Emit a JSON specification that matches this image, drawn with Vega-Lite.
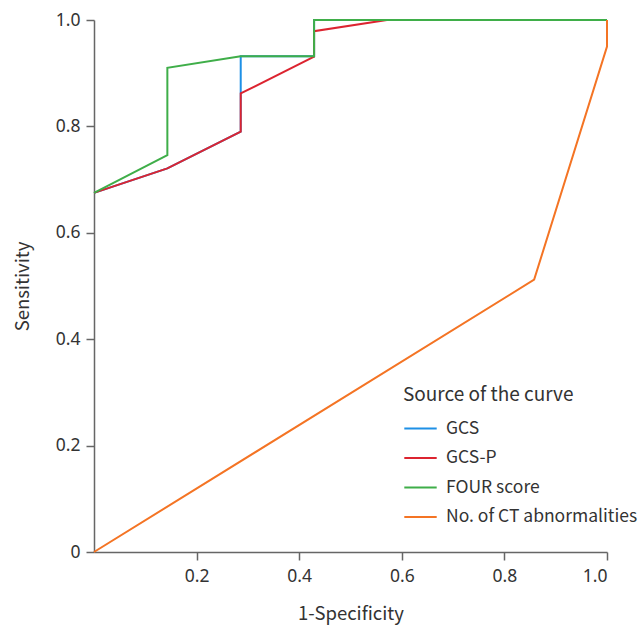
{
  "$schema": "https://vega.github.io/schema/vega-lite/v6.json",
  "width": 513,
  "height": 532,
  "autosize": "none",
  "padding": {"left": 94, "top": 20, "right": 36, "bottom": 74},
  "background": "white",
  "config": {
    "view": {"stroke": null},
    "font": "Noto Sans CJK KR",
    "axis": {
      "domainColor": "#666666",
      "domainWidth": 1.5,
      "tickColor": "#666666",
      "tickWidth": 1.5,
      "tickSize": 8,
      "grid": false,
      "labelFont": "Noto Sans",
      "labelFontSize": 17.5,
      "labelColor": "#333333",
      "titleFont": "Noto Sans CJK KR",
      "titleFontSize": 18.5,
      "titleFontWeight": "normal",
      "titleColor": "#333333"
    }
  },
  "data": {
    "values": [
      {"s": "GCS", "i": 1, "x": 0, "y": 0.675},
      {"s": "GCS", "i": 2, "x": 0.143, "y": 0.721},
      {"s": "GCS", "i": 3, "x": 0.286, "y": 0.79},
      {"s": "GCS", "i": 4, "x": 0.286, "y": 0.932},
      {"s": "GCS", "i": 5, "x": 0.429, "y": 0.932},
      {"s": "GCS", "i": 6, "x": 0.429, "y": 1.0},
      {"s": "GCS", "i": 7, "x": 1.0, "y": 1.0},
      {"s": "GCS-P", "i": 1, "x": 0, "y": 0.675},
      {"s": "GCS-P", "i": 2, "x": 0.143, "y": 0.721},
      {"s": "GCS-P", "i": 3, "x": 0.286, "y": 0.79},
      {"s": "GCS-P", "i": 4, "x": 0.286, "y": 0.862},
      {"s": "GCS-P", "i": 5, "x": 0.429, "y": 0.931},
      {"s": "GCS-P", "i": 6, "x": 0.429, "y": 0.979},
      {"s": "GCS-P", "i": 7, "x": 0.571, "y": 1.0},
      {"s": "GCS-P", "i": 8, "x": 1.0, "y": 1.0},
      {"s": "FOUR score", "i": 1, "x": 0, "y": 0.675},
      {"s": "FOUR score", "i": 2, "x": 0.143, "y": 0.746},
      {"s": "FOUR score", "i": 3, "x": 0.143, "y": 0.91},
      {"s": "FOUR score", "i": 4, "x": 0.286, "y": 0.932},
      {"s": "FOUR score", "i": 5, "x": 0.429, "y": 0.932},
      {"s": "FOUR score", "i": 6, "x": 0.429, "y": 1.0},
      {"s": "FOUR score", "i": 7, "x": 1.0, "y": 1.0},
      {"s": "No. of CT abnormalities", "i": 1, "x": 0, "y": 0},
      {"s": "No. of CT abnormalities", "i": 2, "x": 0.858, "y": 0.512},
      {"s": "No. of CT abnormalities", "i": 3, "x": 1.0, "y": 0.95},
      {"s": "No. of CT abnormalities", "i": 4, "x": 1.0, "y": 1.0}
    ]
  },
  "mark": {"type": "line", "strokeWidth": 2, "clip": false},
  "encoding": {
    "x": {
      "field": "x",
      "type": "quantitative",
      "scale": {"domain": [0, 1], "nice": false},
      "axis": {
        "title": "1-Specificity",
        "values": [0.2, 0.4, 0.6, 0.8, 1.0],
        "format": ".1f",
        "labelPadding": 7,
        "titlePadding": 20
      }
    },
    "y": {
      "field": "y",
      "type": "quantitative",
      "scale": {"domain": [0, 1], "nice": false},
      "axis": {
        "title": "Sensitivity",
        "values": [0, 0.2, 0.4, 0.6, 0.8, 1.0],
        "labelExpr": "datum.value == 0 ? '0' : format(datum.value, '.1f')",
        "labelPadding": 6,
        "titlePadding": 23
      }
    },
    "color": {
      "field": "s",
      "type": "nominal",
      "scale": {
        "domain": ["GCS", "GCS-P", "FOUR score", "No. of CT abnormalities"],
        "range": ["#1e90e6", "#dc2430", "#3fae49", "#f47424"]
      },
      "legend": {
        "title": "Source of the curve",
        "orient": "none",
        "legendX": 309,
        "legendY": 366,
        "symbolType": "stroke",
        "symbolSize": 1050,
        "symbolStrokeWidth": 2,
        "labelFont": "Noto Sans CJK KR",
        "labelFontSize": 17.5,
        "labelColor": "#333333",
        "labelOffset": 8,
        "labelLimit": 300,
        "titleFont": "Noto Sans CJK KR",
        "titleFontSize": 19,
        "titleFontWeight": "normal",
        "titleColor": "#333333",
        "titlePadding": 6,
        "rowPadding": 3.5
      }
    },
    "order": {"field": "i", "type": "quantitative"}
  }
}
